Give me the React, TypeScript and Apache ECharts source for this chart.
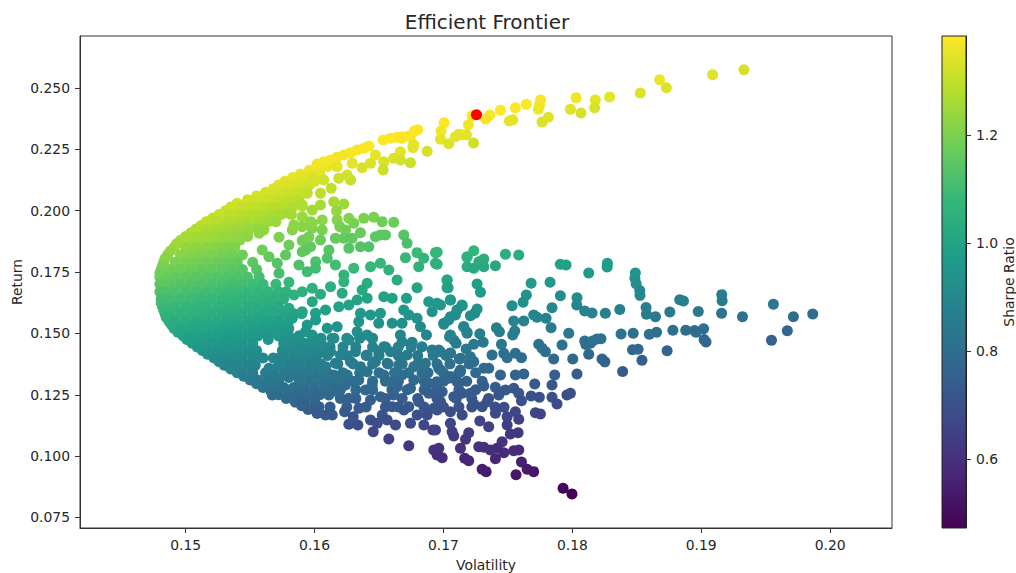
import React, { useEffect, useRef } from "react";
import * as echarts from "echarts";

const xTicks = [0.15, 0.16, 0.17, 0.18, 0.19, 0.2];
const yTicks = [0.075, 0.1, 0.125, 0.15, 0.175, 0.2, 0.225, 0.25];
const barTicks = [0.6, 0.8, 1.0, 1.2];
const viridis = ["#440154", "#482878", "#3e4989", "#31688e", "#26828e", "#1f9e89", "#35b779", "#6ece58", "#b5de2b", "#fde725"];
const maxSharpe = [0.17256, 0.23912];

// The solid mass near the frontier: estimated, row by row (return -> volatilities).
const denseReturns = [0.218, 0.215, 0.212, 0.209, 0.206, 0.203, 0.2, 0.197, 0.194, 0.191, 0.188, 0.185, 0.182, 0.179, 0.176, 0.173, 0.17, 0.167, 0.164, 0.161, 0.158, 0.155, 0.152, 0.149, 0.146, 0.143, 0.14, 0.137, 0.134, 0.131, 0.128, 0.125, 0.122, 0.119];
const denseVols = [
  [0.1602, 0.161],
  [0.1589, 0.1596, 0.1604],
  [0.1577, 0.1584, 0.1592, 0.16],
  [0.1568, 0.1572, 0.158, 0.1588],
  [0.1555, 0.156, 0.1568, 0.1576, 0.1584],
  [0.154, 0.1548, 0.1556, 0.1564, 0.1572, 0.158],
  [0.1531, 0.1536, 0.1544, 0.1552, 0.156, 0.1568, 0.1576],
  [0.1521, 0.1524, 0.1532, 0.154, 0.1548, 0.1556, 0.1564, 0.157],
  [0.1512, 0.152, 0.1528, 0.1536, 0.1544, 0.1552, 0.1556],
  [0.1504, 0.1508, 0.1516, 0.1524, 0.1532, 0.154, 0.1548],
  [0.1496, 0.1504, 0.1512, 0.152, 0.1528, 0.1536, 0.1542],
  [0.1491, 0.15, 0.1508, 0.1516, 0.1524, 0.1532, 0.1538],
  [0.1486, 0.1496, 0.1504, 0.1512, 0.152, 0.1528, 0.1536, 0.1544],
  [0.1483, 0.1492, 0.15, 0.1508, 0.1516, 0.1524, 0.1532, 0.154, 0.1552],
  [0.1481, 0.1488, 0.1496, 0.1504, 0.1512, 0.152, 0.1528, 0.1536, 0.1544, 0.1555],
  [0.148, 0.1484, 0.1492, 0.15, 0.1508, 0.1516, 0.1524, 0.1532, 0.154, 0.1548, 0.1557],
  [0.148, 0.1488, 0.1496, 0.1504, 0.1512, 0.152, 0.1528, 0.1536, 0.1544, 0.1552, 0.156, 0.157],
  [0.148, 0.1484, 0.1492, 0.15, 0.1508, 0.1516, 0.1524, 0.1532, 0.154, 0.1548, 0.1556, 0.1564, 0.1572, 0.1578],
  [0.1481, 0.1488, 0.1496, 0.1504, 0.1512, 0.152, 0.1528, 0.1536, 0.1544, 0.1552, 0.156, 0.1568, 0.1576],
  [0.1482, 0.1484, 0.1492, 0.15, 0.1508, 0.1516, 0.1524, 0.1532, 0.154, 0.1548, 0.1556, 0.1564, 0.1572],
  [0.1484, 0.1488, 0.1496, 0.1504, 0.1512, 0.152, 0.1528, 0.1536, 0.1544, 0.1552, 0.156, 0.1568, 0.1576, 0.1584, 0.159],
  [0.1487, 0.1492, 0.15, 0.1508, 0.1516, 0.1524, 0.1532, 0.154, 0.1548, 0.1556, 0.1564, 0.1572, 0.158],
  [0.1491, 0.1496, 0.1504, 0.1512, 0.152, 0.1528, 0.1536, 0.1544, 0.1552, 0.156, 0.1568, 0.1576, 0.158],
  [0.1498, 0.15, 0.1508, 0.1516, 0.1524, 0.1532, 0.154, 0.1548, 0.1556, 0.1564, 0.1572, 0.158, 0.1588, 0.1598],
  [0.1505, 0.1512, 0.152, 0.1528, 0.1536, 0.1544, 0.1552, 0.1576, 0.1584, 0.1592, 0.16],
  [0.1513, 0.1516, 0.1524, 0.1532, 0.154, 0.1548, 0.1555, 0.1575, 0.158, 0.1588, 0.1596, 0.1605],
  [0.1522, 0.1528, 0.1536, 0.1544, 0.1552, 0.156, 0.1568, 0.1576, 0.1584, 0.1592, 0.16],
  [0.153, 0.1532, 0.154, 0.1548, 0.1554, 0.1572, 0.158, 0.1588, 0.1596, 0.1604],
  [0.154, 0.1544, 0.1552, 0.1562, 0.1568, 0.1576, 0.1584, 0.1592, 0.16, 0.1608],
  [0.155, 0.1556, 0.1564, 0.1572, 0.1588, 0.1596, 0.1604, 0.1612],
  [0.156, 0.1568, 0.1576, 0.1584, 0.1592, 0.16, 0.1608, 0.1616],
  [0.1572, 0.158, 0.1588, 0.1596, 0.1604],
  [0.1585, 0.1592, 0.16],
  [0.1595, 0.1602],
];
// Half-step rows that close the upper band.
const bandReturns = [0.2165, 0.2135, 0.2105, 0.2075, 0.2045, 0.2015, 0.1985, 0.1955, 0.1925, 0.1895];
const bandVols = [
  [0.1596, 0.1604],
  [0.1583, 0.159, 0.1598],
  [0.1572, 0.158, 0.1588, 0.1596],
  [0.1562, 0.157, 0.1578, 0.1586, 0.1594],
  [0.1548, 0.1556, 0.1564, 0.1572, 0.158, 0.1588],
  [0.1535, 0.1543, 0.1551, 0.1559, 0.1567, 0.1575, 0.1583],
  [0.1526, 0.1534, 0.1542, 0.155, 0.1558, 0.1566, 0.1574, 0.1582],
  [0.1516, 0.1524, 0.1532, 0.154, 0.1548, 0.1556, 0.1564, 0.157],
  [0.1508, 0.1516, 0.1524, 0.1532, 0.154, 0.1548, 0.1556],
  [0.15, 0.1508, 0.1516, 0.1524, 0.1532, 0.154, 0.1548],
];
// The crowded lower middle, where single dots run together: estimated, row by row.
const crowdReturns = [0.148, 0.1445, 0.141, 0.1375, 0.134, 0.1305, 0.127, 0.1235, 0.12];
const crowdVols = [
  [0.1605, 0.1615, 0.1625, 0.1635, 0.1645],
  [0.16, 0.1612, 0.1622, 0.1632, 0.1645, 0.1655, 0.1665, 0.1675],
  [0.1597, 0.161, 0.1625, 0.164, 0.165, 0.1665, 0.168, 0.1692, 0.1702],
  [0.1605, 0.1618, 0.163, 0.1645, 0.1657, 0.1668, 0.168, 0.1695, 0.1705, 0.172],
  [0.161, 0.1622, 0.1635, 0.165, 0.1662, 0.1673, 0.1688, 0.17, 0.1712, 0.1725],
  [0.162, 0.163, 0.1645, 0.1655, 0.1665, 0.1685, 0.17, 0.1718, 0.173],
  [0.162, 0.1632, 0.1645, 0.166, 0.1672, 0.1685, 0.1695, 0.1712, 0.1725],
  [0.162, 0.1632, 0.1655, 0.1668, 0.168, 0.1695, 0.171, 0.1722, 0.1735],
  [0.1612, 0.1625, 0.164, 0.1655, 0.1665, 0.1685, 0.17, 0.1712, 0.1722, 0.174],
];
// Points on the frontier's edge, between the rows above: [volatility, return]
const frontierEdge = [
  [0.1493, 0.1865], [0.1488, 0.1835], [0.1484, 0.1805], [0.1482, 0.1775], [0.148, 0.1745], [0.1481, 0.1625],
  [0.1483, 0.1595], [0.1485, 0.1565], [0.1489, 0.1535], [0.1494, 0.1505], [0.1501, 0.1475], [0.1509, 0.1445],
  [0.1517, 0.1415], [0.1526, 0.1385], [0.1535, 0.1355], [0.1545, 0.1325], [0.1555, 0.1295], [0.1566, 0.1265],
  [0.1578, 0.1235], [0.159, 0.1205], [0.1602, 0.1175], [0.1564, 0.1475], [0.1572, 0.131], [0.158, 0.132],
];

// Individually readable points: [volatility, return]
const upperTail = [
  [0.19331, 0.25746], [0.19088, 0.25542], [0.18677, 0.25338], [0.18729, 0.25012], [0.18527, 0.24796], [0.18289, 0.24633],
  [0.18178, 0.2451], [0.18173, 0.24197], [0.18029, 0.24605], [0.17985, 0.24132], [0.18067, 0.23981], [0.17754, 0.2451],
  [0.17746, 0.24307], [0.17736, 0.24132], [0.17814, 0.23806], [0.17765, 0.23615], [0.17643, 0.24335], [0.17558, 0.24197],
  [0.17442, 0.24091], [0.17359, 0.239], [0.17328, 0.23737], [0.17537, 0.23708], [0.17512, 0.23655], [0.17222, 0.23871],
  [0.17194, 0.23504], [0.17005, 0.23586], [0.16801, 0.23301], [0.16775, 0.23248], [0.16982, 0.23248], [0.16977, 0.2291],
  [0.17041, 0.2273], [0.17178, 0.23097], [0.17145, 0.23097], [0.17119, 0.23113], [0.17093, 0.23015], [0.17233, 0.22759],
  [0.16873, 0.22421], [0.16765, 0.22649], [0.16744, 0.23015], [0.1668, 0.23015], [0.16763, 0.22567], [0.16744, 0.21956],
];
const upperMiddle = [
  [0.16532, 0.22882], [0.16589, 0.2295], [0.1664, 0.2299], [0.16679, 0.2295], [0.16731, 0.23045], [0.16782, 0.23262],
  [0.1677, 0.22678], [0.16666, 0.22406], [0.16614, 0.22135], [0.16666, 0.22067], [0.16537, 0.21999], [0.16532, 0.21659],
  [0.16434, 0.21931], [0.16369, 0.21754], [0.16472, 0.2227], [0.16421, 0.22637], [0.16382, 0.22542], [0.1633, 0.22474],
  [0.16279, 0.22366], [0.16227, 0.2227], [0.16175, 0.22175], [0.16124, 0.22067], [0.16072, 0.21999], [0.1602, 0.21904],
  [0.16292, 0.21931], [0.16175, 0.21795], [0.16188, 0.2132], [0.16279, 0.21252], [0.16253, 0.21456], [0.16129, 0.20912],
  [0.16072, 0.21252], [0.15994, 0.21252], [0.15943, 0.20709], [0.16046, 0.20709], [0.16227, 0.20274], [0.16149, 0.20369],
  [0.16046, 0.20234], [0.15904, 0.20193], [0.1617, 0.19989], [0.15904, 0.19758], [0.16059, 0.19622], [0.15969, 0.19555],
  [0.15904, 0.19351], [0.15981, 0.19283], [0.16059, 0.19215], [0.16175, 0.19622], [0.16196, 0.19351], [0.16266, 0.1969],
  [0.16304, 0.19487], [0.1624, 0.19215], [0.16382, 0.1969], [0.16459, 0.19731], [0.16524, 0.19555], [0.16614, 0.19527],
  [0.16356, 0.19106], [0.16511, 0.19011], [0.1655, 0.19011], [0.16472, 0.18943], [0.16162, 0.18875], [0.16227, 0.18875],
  [0.16292, 0.18875], [0.16046, 0.18807], [0.15912, 0.18807], [0.15969, 0.18536], [0.15904, 0.18332], [0.16111, 0.184],
  [0.16266, 0.18468], [0.16356, 0.18536], [0.16421, 0.18536], [0.16692, 0.19011], [0.16718, 0.18672], [0.16795, 0.18292],
  [0.16938, 0.18292], [0.16705, 0.18088], [0.16847, 0.18061], [0.15801, 0.18604], [0.15904, 0.1878], [0.15724, 0.18916],
  [0.15607, 0.19215], [0.15569, 0.19079], [0.15646, 0.18128], [0.15775, 0.18196], [0.15879, 0.17789], [0.15982, 0.19486],
  [0.15904, 0.20233], [0.15827, 0.19215], [0.1593, 0.184], [0.16008, 0.17925], [0.1584, 0.19418], [0.15801, 0.19894],
  [0.15982, 0.2003], [0.15956, 0.18943], [0.15711, 0.17857], [0.15724, 0.17449], [0.15594, 0.184],
];
const centerPoints = [
  [0.16938, 0.17856], [0.16808, 0.1772], [0.17183, 0.1772], [0.17183, 0.18127], [0.1664, 0.17177], [0.16795, 0.16864],
  [0.17028, 0.17177], [0.17028, 0.16864], [0.16537, 0.16497], [0.16602, 0.1643], [0.16713, 0.1643], [0.16046, 0.16593],
  [0.16124, 0.16905], [0.16214, 0.16633], [0.16227, 0.17109], [0.16408, 0.17041], [0.16369, 0.16769], [0.16304, 0.17652],
  [0.16227, 0.1738], [0.16162, 0.17788], [0.16434, 0.1772], [0.16511, 0.17856], [0.16576, 0.17584], [0.16098, 0.18059],
  [0.16007, 0.17652], [0.15943, 0.17516], [0.16886, 0.16294], [0.1695, 0.16226], [0.17054, 0.16362], [0.17144, 0.16158],
  [0.17105, 0.15954], [0.16912, 0.15886], [0.17054, 0.15683], [0.17002, 0.15411], [0.17157, 0.15275], [0.17183, 0.15004],
  [0.17054, 0.14936], [0.1708, 0.14732], [0.16692, 0.15954], [0.16731, 0.15751], [0.16602, 0.15411], [0.16679, 0.15411],
  [0.16795, 0.15615], [0.16821, 0.15275], [0.16868, 0.14936], [0.16511, 0.15819], [0.16434, 0.15751], [0.16356, 0.15819],
  [0.1633, 0.16362], [0.16408, 0.1643], [0.16266, 0.16158], [0.16188, 0.1609], [0.16085, 0.15954], [0.16007, 0.15819],
  [0.15943, 0.15343], [0.16343, 0.15479], [0.16498, 0.15411], [0.16175, 0.15275], [0.16098, 0.15207], [0.1633, 0.15072],
  [0.16408, 0.14936], [0.16447, 0.148], [0.16266, 0.14732], [0.16136, 0.148], [0.16059, 0.14528], [0.15981, 0.14936],
  [0.16666, 0.14936], [0.16679, 0.14664], [0.16757, 0.14637], [0.16834, 0.1446], [0.16537, 0.1446], [0.16498, 0.14257],
  [0.16589, 0.14257], [0.16718, 0.14121], [0.16912, 0.14325], [0.17054, 0.14189], [0.16976, 0.14257], [0.17131, 0.13985],
  [0.16408, 0.14121], [0.16317, 0.14257], [0.16201, 0.14121], [0.16124, 0.14257], [0.1602, 0.14121], [0.15943, 0.14257],
  [0.16279, 0.1385], [0.16162, 0.13781], [0.16085, 0.13646], [0.16356, 0.13646], [0.16472, 0.1385], [0.16563, 0.13781],
  [0.16653, 0.13714], [0.1677, 0.13646], [0.1686, 0.13781], [0.16963, 0.13578], [0.17131, 0.1351], [0.17054, 0.13239],
  [0.16149, 0.13306], [0.16253, 0.13306], [0.16408, 0.13442], [0.16537, 0.13306], [0.16679, 0.13306], [0.16834, 0.13374],
  [0.15969, 0.13646], [0.16033, 0.13238], [0.16343, 0.13103], [0.16602, 0.13035], [0.1677, 0.13103], [0.1695, 0.13035],
  [0.17105, 0.13035], [0.15801, 0.17081], [0.1584, 0.16565], [0.15904, 0.16701], [0.15801, 0.16022], [0.15904, 0.15886],
  [0.15982, 0.16837], [0.15982, 0.16294], [0.16008, 0.15547], [0.15827, 0.15615], [0.1593, 0.15071], [0.15982, 0.14664],
  [0.15724, 0.15071], [0.15672, 0.15886], [0.15775, 0.14664], [0.15904, 0.14325], [0.15724, 0.13985], [0.15853, 0.13985],
  [0.16008, 0.13849], [0.15646, 0.13578], [0.15724, 0.12899], [0.15801, 0.12695], [0.15827, 0.12355], [0.15672, 0.12491],
];
const rightPoints = [
  [0.17235, 0.18372], [0.17183, 0.181], [0.17313, 0.18032], [0.17274, 0.17924], [0.17235, 0.17652], [0.17313, 0.1772],
  [0.17403, 0.17761], [0.17481, 0.18222], [0.17584, 0.18195], [0.17907, 0.17815], [0.17951, 0.17788], [0.18127, 0.17462],
  [0.16951, 0.18304], [0.16951, 0.17815], [0.17028, 0.17177], [0.17036, 0.16864], [0.17261, 0.17014], [0.17287, 0.16674],
  [0.1768, 0.17041], [0.17827, 0.17082], [0.17643, 0.16566], [0.17618, 0.16267], [0.17532, 0.16131], [0.17907, 0.16538],
  [0.17842, 0.1605], [0.18036, 0.16457], [0.18034, 0.16158], [0.18096, 0.15914], [0.17261, 0.15995], [0.17243, 0.15819],
  [0.17209, 0.15724], [0.17145, 0.16131], [0.17106, 0.15955], [0.17054, 0.16362], [0.16977, 0.16158], [0.17093, 0.15751],
  [0.17041, 0.15547], [0.17003, 0.1537], [0.17545, 0.15506], [0.17623, 0.15506], [0.177, 0.15751], [0.17726, 0.15656],
  [0.17796, 0.15615], [0.17835, 0.15235], [0.17553, 0.15099], [0.17537, 0.14936], [0.17411, 0.15235], [0.17434, 0.15072],
  [0.17282, 0.1499], [0.17158, 0.15276], [0.17183, 0.15045], [0.17047, 0.14868], [0.17098, 0.14596], [0.17308, 0.14637],
  [0.17235, 0.14556], [0.1745, 0.14556], [0.17176, 0.14366], [0.17054, 0.14203], [0.16964, 0.14325], [0.17377, 0.14121],
  [0.17468, 0.14189], [0.17558, 0.14189], [0.17605, 0.14013], [0.17494, 0.14013], [0.17124, 0.13958], [0.17209, 0.14053],
  [0.17235, 0.1385], [0.17739, 0.14556], [0.17765, 0.14393], [0.17791, 0.14257], [0.1792, 0.14528], [0.17972, 0.15004],
  [0.18096, 0.14692], [0.18191, 0.14773], [0.1814, 0.14596], [0.18127, 0.14148], [0.17855, 0.13958], [0.18003, 0.13958],
  [0.1823, 0.13958], [0.18256, 0.15819],
];
const farRightPoints = [
  [0.18272, 0.17862], [0.1827, 0.1771], [0.18489, 0.1746], [0.18485, 0.1725], [0.18495, 0.1702], [0.18523, 0.1675],
  [0.18525, 0.1655], [0.18153, 0.1583], [0.18368, 0.1597], [0.18572, 0.1606], [0.18575, 0.1578], [0.18645, 0.1568],
  [0.18756, 0.1587], [0.18833, 0.1637], [0.18862, 0.1632], [0.18977, 0.1589], [0.19159, 0.1658], [0.19162, 0.1633],
  [0.19158, 0.1582], [0.19018, 0.1519], [0.18948, 0.1512], [0.1888, 0.1513], [0.19022, 0.1475], [0.19037, 0.1465],
  [0.18653, 0.1505], [0.18597, 0.1497], [0.18472, 0.1501], [0.18378, 0.1498], [0.1851, 0.1435], [0.18467, 0.1433],
  [0.1854, 0.1391], [0.1839, 0.1345], [0.18735, 0.1429], [0.1896, 0.1505], [0.1878, 0.1513], [0.1956, 0.1619],
  [0.19545, 0.1472], [0.19668, 0.1511], [0.19715, 0.1568], [0.19865, 0.1579], [0.1932, 0.1568], [0.18222, 0.1478],
  [0.18252, 0.1384], [0.18105, 0.1455], [0.18157, 0.1469],
];
const lowerPoints = [
  [0.18036, 0.13346], [0.17863, 0.13305], [0.17842, 0.12897], [0.17708, 0.12938], [0.17623, 0.13346], [0.17558, 0.13305],
  [0.17442, 0.13305], [0.17313, 0.12857], [0.17403, 0.12802], [0.17481, 0.12694], [0.17429, 0.1249], [0.17545, 0.12762],
  [0.17584, 0.12558], [0.17605, 0.12259], [0.1768, 0.12449], [0.17744, 0.12395], [0.17842, 0.12395], [0.17881, 0.12123],
  [0.17958, 0.1249], [0.17985, 0.12558], [0.17713, 0.1177], [0.17752, 0.11716], [0.1747, 0.11988], [0.17403, 0.11743],
  [0.17558, 0.11811], [0.17494, 0.11607], [0.17584, 0.11499], [0.17339, 0.12218], [0.173, 0.12015], [0.17235, 0.12123],
  [0.17282, 0.11431], [0.17351, 0.112], [0.17494, 0.11268], [0.17519, 0.10901], [0.17579, 0.10956], [0.17196, 0.10956],
  [0.17171, 0.10684], [0.17067, 0.10996], [0.1708, 0.1082], [0.17054, 0.11336], [0.17145, 0.11675], [0.17054, 0.11811],
  [0.16977, 0.12218], [0.16951, 0.11879], [0.16938, 0.11064], [0.17145, 0.12558], [0.17209, 0.12558], [0.1708, 0.12422],
  [0.17132, 0.13441], [0.17041, 0.13169], [0.1699, 0.12626], [0.17119, 0.12965], [0.16977, 0.13509], [0.17455, 0.10589],
  [0.17274, 0.10385], [0.17313, 0.10358], [0.17364, 0.10249], [0.17416, 0.10317], [0.17468, 0.10141], [0.17545, 0.10222],
  [0.17584, 0.10249], [0.17403, 0.09896], [0.17132, 0.10317], [0.16964, 0.10317], [0.1699, 0.09937], [0.17165, 0.0991],
  [0.17196, 0.09815], [0.173, 0.09462], [0.17331, 0.09367], [0.17563, 0.09244], [0.17605, 0.0976], [0.17649, 0.09462],
  [0.177, 0.09367], [0.17928, 0.08688], [0.17997, 0.08457], [0.17351, 0.13577], [0.17313, 0.13577], [0.16925, 0.1025],
  [0.16951, 0.10046], [0.16576, 0.10698], [0.16731, 0.10426], [0.16455, 0.10996], [0.16336, 0.11268], [0.16266, 0.11295],
  [0.163, 0.11608], [0.16233, 0.11811], [0.16344, 0.11947], [0.16137, 0.11675], [0.16085, 0.11675], [0.16021, 0.11743],
  [0.16034, 0.12015], [0.16008, 0.12422], [0.16111, 0.1249], [0.16189, 0.12558], [0.16266, 0.12354], [0.16434, 0.12286],
  [0.16512, 0.12422], [0.16615, 0.1249], [0.16602, 0.12015], [0.16693, 0.11879], [0.16731, 0.12015], [0.16809, 0.12218],
  [0.16744, 0.12762], [0.16886, 0.12558], [0.16925, 0.11947], [0.16796, 0.11675], [0.16873, 0.11675], [0.16434, 0.11472],
  [0.16486, 0.11336], [0.16525, 0.11675], [0.16563, 0.11472], [0.16628, 0.11268], [0.16744, 0.11336], [0.16848, 0.11268],
  [0.16918, 0.11064], [0.16085, 0.12898], [0.1624, 0.12898], [0.16395, 0.12694], [0.16447, 0.12898], [0.1655, 0.13101],
  [0.16641, 0.1283], [0.16886, 0.12966],
];

const AXIS_FONT = "'DejaVu Sans', sans-serif";
const SHARPE_MIN = 0.472;
const SHARPE_MAX = 1.383;

export default function App() {
  const ref = useRef<HTMLDivElement>(null);
  useEffect(() => {
    if (!ref.current) return;
    const chart = echarts.init(ref.current, undefined, { renderer: "svg" });
    const fromRows = (rets: number[], vols: number[][]) => rets.flatMap((r, i) => vols[i].map((v) => [v, r]));
    // The colour is the Sharpe ratio, return / volatility, as the picture's colours show.
    const points = [
      ...fromRows(denseReturns, denseVols),
      ...fromRows(bandReturns, bandVols),
      ...fromRows(crowdReturns, crowdVols),
      ...frontierEdge,
      ...upperTail,
      ...upperMiddle,
      ...centerPoints,
      ...rightPoints,
      ...farRightPoints,
      ...lowerPoints,
    ].map(([v, r]) => [v, r, r / v]);
    const textStyle = { color: "#262626", fontFamily: AXIS_FONT, fontSize: 13.9 };
    const gradient = new echarts.graphic.LinearGradient(
      0, 1, 0, 0,
      viridis.map((color, i) => ({ offset: i / (viridis.length - 1), color }))
    );
    chart.setOption({
      animation: false,
      backgroundColor: "#fff",
      textStyle: { fontFamily: AXIS_FONT },
      title: {
        text: "Efficient Frontier",
        left: 482,
        top: 7,
        textAlign: "center",
        textStyle: { color: "#262626", fontFamily: AXIS_FONT, fontSize: 20, fontWeight: "normal" },
      },
      grid: [
        { left: 80, top: 36, width: 812, height: 492, outerBoundsMode: "none", containLabel: false, show: true, borderColor: "#333", borderWidth: 1, backgroundColor: "#fff" },
        { left: 942, top: 36, width: 24, height: 492, outerBoundsMode: "none", containLabel: false, show: true, borderColor: "#222", borderWidth: 1, backgroundColor: gradient },
      ],
      xAxis: [
        {
          type: "value",
          gridIndex: 0,
          min: 0.1418,
          max: 0.2048,
          name: "Volatility",
          nameLocation: "middle",
          nameGap: 30,
          nameTextStyle: textStyle,
          splitLine: { show: false },
          axisLine: { show: true, onZero: false, lineStyle: { color: "#333" } },
          axisTick: { length: 5, customValues: xTicks, lineStyle: { color: "#333" } },
          axisLabel: { ...textStyle, margin: 10, customValues: xTicks, formatter: (v: number) => v.toFixed(2) },
        },
        { type: "value", gridIndex: 1, min: 0, max: 1, show: false },
      ],
      yAxis: [
        {
          type: "value",
          gridIndex: 0,
          min: 0.0707,
          max: 0.2712,
          name: "Return",
          nameLocation: "middle",
          nameGap: 56,
          nameRotate: 90,
          nameMoveOverlap: false,
          nameTextStyle: textStyle,
          splitLine: { show: false },
          axisLine: { show: true, onZero: false, lineStyle: { color: "#333" } },
          axisTick: { length: 5, customValues: yTicks, lineStyle: { color: "#333" } },
          axisLabel: { ...textStyle, margin: 10, customValues: yTicks, formatter: (v: number) => v.toFixed(3) },
        },
        {
          type: "value",
          gridIndex: 1,
          position: "right",
          min: SHARPE_MIN,
          max: SHARPE_MAX,
          name: "Sharpe Ratio",
          nameLocation: "middle",
          nameGap: 35,
          nameRotate: 90,
          nameTextStyle: textStyle,
          splitLine: { show: false },
          axisLine: { show: true, onZero: false, lineStyle: { color: "#222" } },
          axisTick: { length: 5, customValues: barTicks, lineStyle: { color: "#333" } },
          axisLabel: { ...textStyle, margin: 10, customValues: barTicks, formatter: (v: number) => v.toFixed(1) },
        },
      ],
      visualMap: {
        show: false,
        type: "continuous",
        seriesIndex: 0,
        dimension: 2,
        min: SHARPE_MIN,
        max: SHARPE_MAX,
        inRange: { color: viridis },
      },
      series: [
        { type: "scatter", xAxisIndex: 0, yAxisIndex: 0, symbolSize: 11, data: points, silent: true, progressive: 0, itemStyle: { opacity: 1 } },
        {
          type: "scatter",
          xAxisIndex: 0,
          yAxisIndex: 0,
          symbolSize: 11,
          z: 5,
          silent: true,
          itemStyle: { color: "#ff0000", opacity: 1 },
          data: [maxSharpe],
        },
      ],
    });
    return () => chart.dispose();
  }, []);
  return <div ref={ref} style={{ position: "fixed", left: 0, top: 0, width: 1016, height: 573 }} />;
}
